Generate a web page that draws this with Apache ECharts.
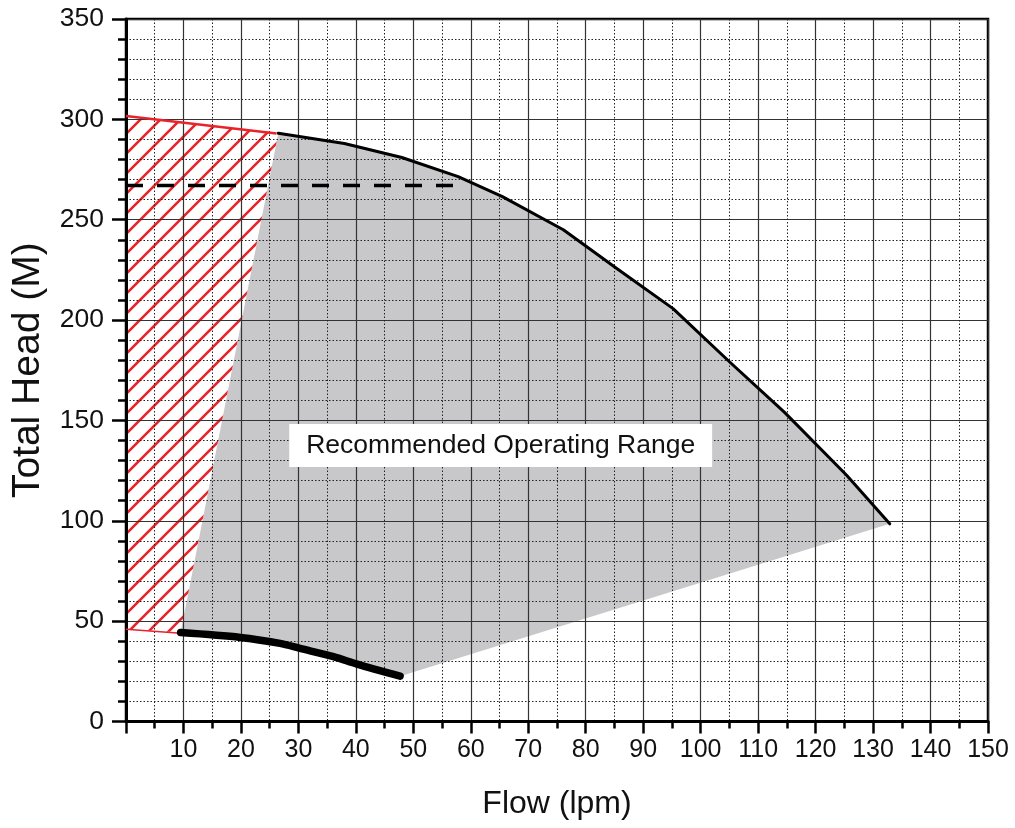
<!DOCTYPE html>
<html>
<head>
<meta charset="utf-8">
<script src="https://cdn.jsdelivr.net/npm/echarts@6/dist/echarts.min.js"></script>
<style>
html,body{margin:0;padding:0;background:#fff;}
#chart{width:1015px;height:828px;}
</style>
</head>
<body>
<div id="chart"></div>
<script>
// ---- data ----
const xTickLabels = ['10','20','30','40','50','60','70','80','90','100','110','120','130','140','150'];
const yTickLabels = ['0','50','100','150','200','250','300','350'];
// upper head curve (thin black)
const topCurve = [[26.5,293.1],[38,288],[48,281],[57.8,271.5],[65.5,261.5],[76.1,245],[85.4,225.7],[95.2,205.7],[105.1,179],[114.6,154],[125.4,122.7],[132.9,98.5]];
// lower curve (thick black)
const bottomCurve = [[9.5,44.3],[19.9,41.9],[26.8,38.9],[30.3,36.4],[36.1,32.3],[40.2,28.6],[47.7,22.6]];
// recommended operating range polygon (grey)
const rangePoly = [[9.5,44.3],[26.5,293.1]].concat(topCurve.slice(1)).concat([[47.7,22.6]]).concat(bottomCurve.slice(0,-1).reverse());
// red hatched region
const hatchPoly = [[0,301.7],[26.2,293],[26.5,293.1],[9.5,44.3],[0,46]];
const hatchTopEdge = [[0,301.7],[26.2,293]];
const hatchBottomEdge = [[0,46],[9.5,44]];
// dashed line
const dashedLine = [[0,267],[58.5,267]];
// label
const rangeLabelPos = [[65.2,137.5]];
const rangeLabelText = 'Recommended Operating Range';

// hatch pattern
function makeHatch(){
  const s = 20;
  const c = document.createElement('canvas');
  c.width = s; c.height = s;
  const g = c.getContext('2d');
  g.strokeStyle = '#e8232a';
  g.lineWidth = 2.6;
  g.beginPath();
  g.moveTo(-2, s+2); g.lineTo(s+2, -2);
  g.moveTo(-2, 2); g.lineTo(2, -2);
  g.moveTo(s-2, s+2); g.lineTo(s+2, s-2);
  g.stroke();
  return c;
}
const hatchCanvas = makeHatch();

function polySeries(points, style, z){
  return {
    type: 'custom',
    z: z,
    data: points,
    encode: {x: 0, y: 1},
    clip: true,
    renderItem: function(params, api){
      if (params.dataIndex !== 0) return null;
      const pts = points.map(p => api.coord(p));
      return {type: 'polygon', shape: {points: pts}, style: style, silent: true};
    }
  };
}

const FONT = '"Liberation Sans", Arial, Helvetica, sans-serif';
const chart = echarts.init(document.getElementById('chart'), null, {renderer: 'canvas'});
chart.setOption({
  animation: false,
  backgroundColor: '#fff',
  grid: {left: 126, right: 27, top: 19, bottom: 106.5, show: true, borderColor: '#000', borderWidth: 2.5, backgroundColor: 'transparent'},
  xAxis: {
    type: 'value', min: 0, max: 150, interval: 10, z: 3,
    name: 'Flow (lpm)', nameLocation: 'middle', nameGap: 67,
    nameTextStyle: {fontSize: 32, color: '#111', fontFamily: FONT},
    axisLine: {show: true, onZero: false, lineStyle: {color: '#000', width: 3}},
    axisTick: {show: true, length: 12, lineStyle: {color: '#000', width: 2.5}},
    minorTick: {show: true, splitNumber: 2, length: 7, lineStyle: {color: '#000', width: 2.5}},
    axisLabel: {fontSize: 25, color: '#111', fontFamily: FONT, margin: 16,
      formatter: function(v){ const i = Math.round(v/10)-1; return i>=0 ? xTickLabels[i] : ''; }},
    splitLine: {show: true, lineStyle: {color: '#333', width: 1.2}},
    minorSplitLine: {show: true, lineStyle: {color: '#222', width: 1, type: [1.5, 2]}}
  },
  yAxis: {
    type: 'value', min: 0, max: 350, interval: 50, z: 3,
    name: 'Total Head (M)', nameLocation: 'middle', nameGap: 78,
    nameTextStyle: {fontSize: 39, color: '#111', fontFamily: FONT},
    axisLine: {show: true, onZero: false, lineStyle: {color: '#000', width: 3}},
    axisTick: {show: true, length: 14, lineStyle: {color: '#000', width: 2.5}},
    minorTick: {show: true, splitNumber: 5, length: 8, lineStyle: {color: '#000', width: 2.5}},
    axisLabel: {fontSize: 26.5, color: '#111', fontFamily: FONT, margin: 22,
      formatter: function(v){ return yTickLabels[Math.round(v/50)]; }},
    splitLine: {show: true, lineStyle: {color: '#333', width: 1.2}},
    minorSplitLine: {show: true, lineStyle: {color: '#222', width: 1, type: [1.5, 2]}}
  },
  series: [
    polySeries(rangePoly, {fill: '#c8c8ca'}, 1),
    polySeries(hatchPoly, {fill: {image: hatchCanvas, repeat: 'repeat'}}, 1),
    {type: 'line', z: 5, data: hatchTopEdge, symbol: 'none', lineStyle: {color: '#e8232a', width: 2.5}},
    {type: 'line', z: 5, data: hatchBottomEdge, symbol: 'none', lineStyle: {color: '#e8232a', width: 1.5}},
    {type: 'line', z: 5, data: dashedLine, symbol: 'none', lineStyle: {color: '#000', width: 3.5, type: [17, 14]}},
    {type: 'line', z: 6, data: topCurve, symbol: 'none', lineStyle: {color: '#000', width: 3, join: 'round', cap: 'round'}},
    {type: 'line', z: 6, data: bottomCurve, symbol: 'none', smooth: 0.3, lineStyle: {color: '#000', width: 7.5, cap: 'round', join: 'round'}},
    {type: 'custom', z: 8, data: rangeLabelPos, encode: {x: 0, y: 1}, silent: true,
      renderItem: function(params, api){
        const p = api.coord([api.value(0), api.value(1)]);
        return {type: 'text', x: p[0], y: p[1], z2: 10,
          style: {text: rangeLabelText, fontSize: 26.5, fontFamily: FONT, fill: '#111',
            align: 'center', verticalAlign: 'middle',
            backgroundColor: '#fff', padding: [8, 17, 8, 17]}};
      }}
  ]
});
</script>
</body>
</html>
